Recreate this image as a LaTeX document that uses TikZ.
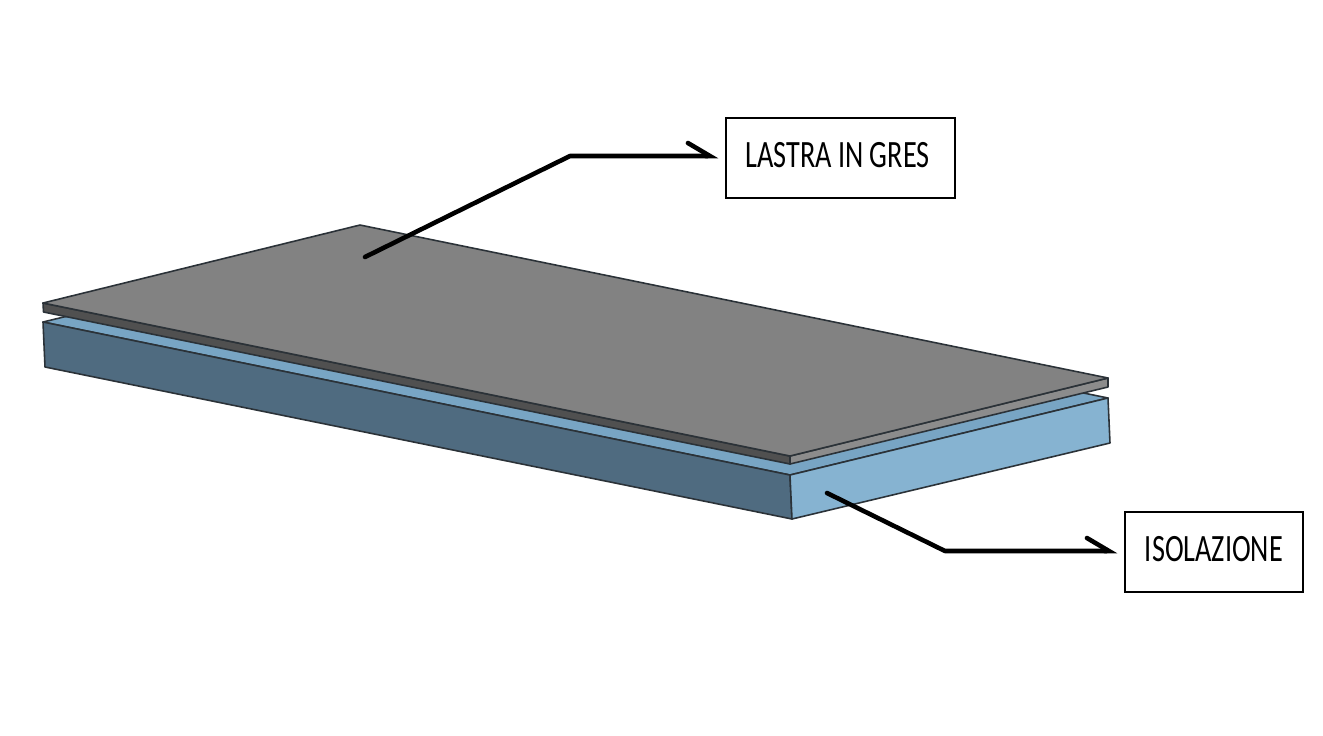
\documentclass[tikz,border=0pt]{standalone}
\usepackage{fontspec}
\setmainfont{Carlito}
\newfontfamily\boxfont[FakeStretch=0.73]{Carlito}
\usetikzlibrary{arrows.meta}

\definecolor{slabtop}{HTML}{828282}
\definecolor{slableft}{HTML}{505050}
\definecolor{slabright}{HTML}{8C8C8C}
\definecolor{isotop}{HTML}{78A5C4}
\definecolor{isoleft}{HTML}{4F6B80}
\definecolor{isoright}{HTML}{86B3D1}
\definecolor{edgeline}{HTML}{2B3238}

\tikzset{
	face/.style={draw=edgeline, line width=0.45pt, line join=round},
	labelbox/.style={draw, line width=0.35pt, inner sep=0pt, text height=0.24cm, text depth=0.05cm,
		font=\boxfont\fontsize{11}{13}\selectfont},
	leader/.style={line width=1.3pt, line cap=round, line join=round, shorten >=0.07cm,
		-{Straight Barb[harpoon, length=0.22cm, width=0.26cm, line cap=round]}},
}

\begin{document}
\begin{tikzpicture}[x=0.01cm, y=-0.01cm]
		\useasboundingbox (0,0) rectangle (1323,735);

		% corners of the insulation
		\coordinate (il) at (43,322);
		\coordinate (ib) at (361,245);
		\coordinate (ir) at (1108,398);
		\coordinate (if) at (790,475);
		\coordinate (ill) at (45,367);
		\coordinate (irr) at (1110,443);
		\coordinate (iff) at (792,519);

		% corners of the slab
		\coordinate (sl) at (43,303);
		\coordinate (sb) at (360,225);
		\coordinate (sr) at (1108,378);
		\coordinate (sf) at (790,456);
		\coordinate (sll) at (43.5,312);
		\coordinate (srr) at (1108,387);
		\coordinate (sff) at (790,464);

		% draw the insulation
		\draw [face, fill=isotop] (il) -- (ib) -- (ir) -- (if) -- cycle;
		\draw [face, fill=isoleft] (il) -- (if) -- (iff) -- (ill) -- cycle;
		\draw [face, fill=isoright] (if) -- (ir) -- (irr) -- (iff) -- cycle;

		% draw the slab
		\draw [face, fill=slableft] (sl) -- (sf) -- (sff) -- (sll) -- cycle;
		\draw [face, fill=slabright] (sf) -- (sr) -- (srr) -- (sff) -- cycle;
		\draw [face, fill=slabtop] (sl) -- (sb) -- (sr) -- (sf) -- cycle;

		% draw the labels
		\node [labelbox, minimum width=2.29cm, minimum height=0.8cm] (gres) at (840.5,158) {LASTRA IN GRES\hspace*{0.06cm}};
		\node [labelbox, minimum width=1.78cm, minimum height=0.8cm] (iso) at (1214,552) {ISOLAZIONE};

		% draw the leaders
		\coordinate (gresstart) at (365,257);
		\coordinate (gresbend) at (570,156);
		\coordinate (isostart) at (827,493);
		\coordinate (isobend) at (945,551);

		\draw [leader] (gresstart) -- (gresbend) -- (gresbend -| gres.west);
		\draw [leader] (isostart) -- (isobend) -- (isobend -| iso.west);
		\end{tikzpicture}
\end{document}
